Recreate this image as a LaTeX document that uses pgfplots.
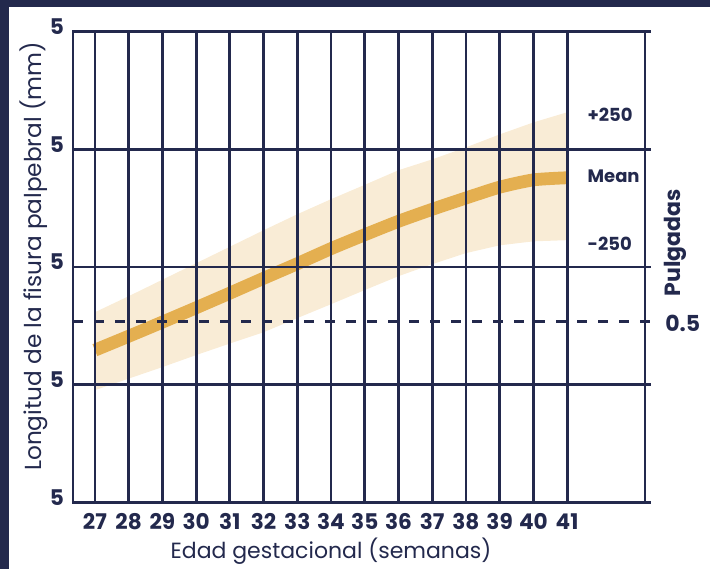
\documentclass[border=0pt]{standalone}
\usepackage{pgfplots}
\pgfplotsset{compat=1.18}
\usepackage{fontspec}
\setmainfont{Poppins}

\definecolor{navy}{RGB}{35,41,77}
\definecolor{bandc}{RGB}{249,236,214}
\definecolor{meanc}{RGB}{228,175,80}

\begin{document}
\begin{tikzpicture}
% page frame: 1 px of the layout = 0.5pt, axis box starts at (0,0)
\path[use as bounding box] (-36.5pt,-33.25pt) rectangle (318.5pt,251.25pt);
\fill[navy] (-36.5pt,247.75pt) rectangle (318.5pt,251.25pt);
\fill[navy] (-36.5pt,-33.25pt) rectangle (-32pt,251.25pt);

\begin{axis}[
  at={(0,0)}, anchor=south west,
  width=286pt, height=235.5pt, scale only axis,
  xmin=26.35, xmax=43.31, ymin=5, ymax=25,
  clip=false,
  axis on top,
  axis line style={navy, line width=1.4pt},
  grid=major,
  major grid style={navy, line width=1.4pt},
  major tick length=0pt,
  xtick={27,28,...,41},
  xticklabels={27,28,29,30,31,32,33,34,35,36,37,38,39,40,41},
  ytick={5,10,15,20,25},
  yticklabels={5,5,5,5,5},
  xticklabel style={font=\bfseries\fontsize{10.8}{12}\selectfont, text=navy, yshift=-2pt},
  yticklabel style={font=\bfseries\fontsize{10.8}{12}\selectfont, text=navy, yshift=2.5pt, xshift=-1pt},
]
% +/- band around the mean
\addplot[fill=bandc, draw=none] coordinates {
  (27,13.08) (28,13.76) (29,14.46) (30,15.16) (31,15.86) (32,16.56) (33,17.24)
  (34,17.88) (35,18.49) (36,19.11) (37,19.57) (38,20.08) (39,20.63) (40,21.14) (41,21.57)
  (41,16.14) (40,16.09) (39,15.92) (38,15.59) (37,15.12) (36,14.61) (35,14.02)
  (34,13.42) (33,12.83) (32,12.23) (31,11.75) (30,11.26) (29,10.75) (28,10.26) (27,9.77)
} -- cycle;
% mean curve
\addplot[meanc, line width=6.4pt, smooth, tension=0.4] coordinates {
  (27,11.47) (28,12.06) (29,12.66) (30,13.27) (31,13.89) (32,14.52) (33,15.14)
  (34,15.78) (35,16.37) (36,16.94) (37,17.45) (38,17.93) (39,18.39) (40,18.70) (41,18.79)
};
% 0.5 inch reference
\addplot[navy, line width=1.4pt, dash pattern=on 5pt off 5.5pt] coordinates {(26.35,12.7) (43.49,12.7)};
% gridlines run a little past the right border
\foreach \yy in {5,10,15,20,25} {
  \edef\tmp{\noexpand\draw[navy, line width=1.4pt] (axis cs:43.3,\yy) -- (axis cs:43.49,\yy);}
  \tmp
}
\node[anchor=west, font=\bfseries\fontsize{9}{11}\selectfont, text=navy] at (axis cs:41.4,21.48) {+250};
\node[anchor=west, font=\bfseries\fontsize{9}{11}\selectfont, text=navy] at (axis cs:41.4,18.85) {Mean};
\node[anchor=west, font=\bfseries\fontsize{9}{11}\selectfont, text=navy] at (axis cs:41.4,15.99) {-250};
\node[anchor=west, font=\bfseries\fontsize{11}{13}\selectfont, text=navy, inner sep=0pt] at (axis cs:43.9,12.62) {0.5};
\node[rotate=90, font=\bfseries\fontsize{11}{13}\selectfont, text=navy] at (axis cs:44.21,16.03) {Pulgadas};
\node[rotate=90, font=\fontsize{11.6}{13}\selectfont, text=navy] at (axis cs:25.19,15.45) {Longitud de la fisura palpebral (mm)};
\node[font=\fontsize{11}{13}\selectfont, text=navy] at (axis cs:34.0,2.94) {Edad gestacional (semanas)};
\end{axis}
\end{tikzpicture}
\end{document}
